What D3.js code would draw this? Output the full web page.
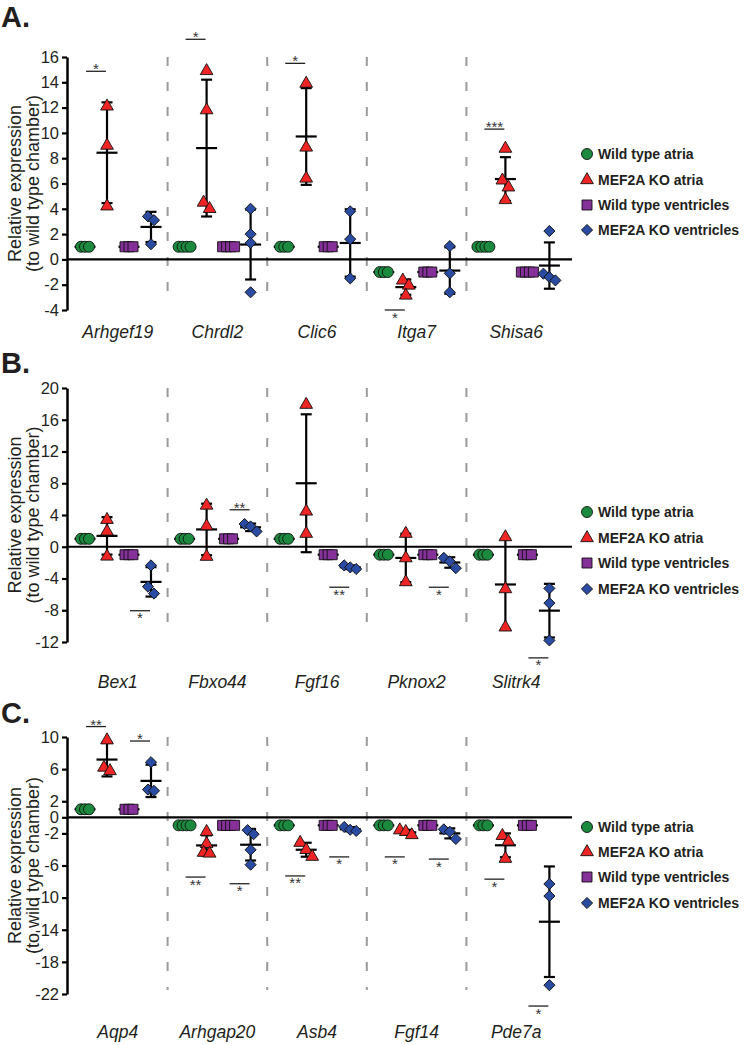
<!DOCTYPE html>
<html><head><meta charset="utf-8">
<script src="https://cdn.jsdelivr.net/npm/d3@7"></script>
<style>
body{margin:0;background:#fff;}
svg{display:block;font-family:"Liberation Sans",Arial,sans-serif;}
</style></head>
<body>
<svg id="chart" width="745" height="1045"></svg>
<script>
// ---------------- DATA ----------------
const seriesNames = ["Wild type atria","MEF2A KO atria","Wild type ventricles","MEF2A KO ventricles"];

const genesA = ["Arhgef19","Chrdl2","Clic6","Itga7","Shisa6"];
const wtAtriaA = [[1,1,1],[1,1,1,1],[1,1,1],[-1,-1,-1],[1,1,1,1]];
const koAtriaA = [[12.1,9.0,4.2],[14.9,11.8,4.0,4.5],[13.9,8.85,6.4],[-1.66,-2.06,-2.85],[8.76,6.25,5.7,4.7]];
const wtVentA  = [[1,1,1],[1,1,1,1],[1,1,1],[-1,-1,-1],[-1,-1,-1,-1]];
const koVentA  = [[3.4,3.1,1.2],[4.0,2.0,1.3,-2.6],[3.8,1.6,-1.5],[1.05,-1.1,-2.6],[2.24,-1.13,-1.4,-1.66]];
const ticksA = [-4,-2,0,2,4,6,8,10,12,14,16];
const sigGeneA  = ["Arhgef19","Chrdl2","Clic6","Itga7","Shisa6"];
const sigPairA  = ["atria","atria","atria","atria","atria"];
const sigTextA  = ["*","*","*","*","***"];
const sigLevelA = [14.87,17.4,15.5,-4.0,10.3];

const genesB = ["Bex1","Fbxo44","Fgf16","Pknox2","Slitrk4"];
const wtAtriaB = [[1,1,1],[1,1,1],[1,1,1],[-1,-1,-1],[-1,-1,-1]];
const koAtriaB = [[3.4,1.93,-1.22],[5.2,2.6,-1.25],[17.9,4.45,1.65],[1.65,-1.43,-4.45],[1.22,-5.33,-10.15]];
const wtVentB  = [[-1,-1,-1],[1,1,1],[-1,-1,-1],[-1,-1,-1],[-1,-1,-1]];
const koVentB  = [[-2.35,-5.03,-5.9],[2.86,2.56,1.93],[-2.35,-2.8,-2.6],[-1.4,-1.85,-2.7],[-5.25,-7.1,-11.8]];
const ticksB = [-12,-8,-4,0,4,8,12,16,20];
const sigGeneB  = ["Bex1","Fbxo44","Fgf16","Pknox2","Slitrk4"];
const sigPairB  = ["vent","vent","vent","vent","vent"];
const sigTextB  = ["*","**","**","*","*"];
const sigLevelB = [-8.06,4.66,-5.1,-5.1,-14.0];

const genesC = ["Aqp4","Arhgap20","Asb4","Fgf14","Pde7a"];
const wtAtriaC = [[1,1,1],[-1,-1,-1,-1],[-1,-1,-1],[-1,-1,-1],[-1,-1,-1]];
const koAtriaC = [[9.6,5.77,6.2],[-1.8,-3.3,-4.4,-4.5],[-3.16,-4.05,-4.9],[-1.6,-1.8,-2.2],[-2.3,-3.0,-5.15]];
const wtVentC  = [[1,1,1],[-1,-1,-1,-1],[-1,-1,-1],[-1,-1,-1],[-1,-1,-1]];
const koVentC  = [[6.86,3.3,3.45],[-1.6,-2.1,-4.05,-5.9],[-1.2,-1.55,-1.7],[-1.5,-1.8,-2.7],[-8.3,-9.8,-20.9]];
const ticksC = [10,6,2,0,-2,-6,-10,-14,-18,-22];
const sigGeneC  = ["Aqp4","Aqp4","Arhgap20","Arhgap20","Asb4","Asb4","Fgf14","Fgf14","Pde7a","Pde7a"];
const sigPairC  = ["atria","vent","atria","vent","atria","vent","atria","vent","atria","vent"];
const sigTextC  = ["**","*","**","*","**","*","*","*","*","*"];
const sigLevelC = [11.3,9.5,-7.44,-8.27,-7.3,-4.93,-4.93,-5.2,-7.7,-23.5];

// ---------------- STYLE / LAYOUT ----------------
const colors = ["#1b8a3e","#ee2524","#86309a","#2a4ba2"];
const symbolsList = [d3.symbolCircle, d3.symbolTriangle, d3.symbolSquare, d3.symbolSquare];
const symSizes = [95, 70, 100, 62];
const symRot = [0,0,0,45];
const textCol = "#231f20";

const panels = [
  {letter:"A.", genes:genesA, series:[wtAtriaA,koAtriaA,wtVentA,koVentA], ticks:ticksA, dom:[-4,16], top:57, bot:310,
   labelY:338, letterY:27, legY:[154,180,205,230],
   sig:{gene:sigGeneA,pair:sigPairA,text:sigTextA,level:sigLevelA}},
  {letter:"B.", genes:genesB, series:[wtAtriaB,koAtriaB,wtVentB,koVentB], ticks:ticksB, dom:[-12,20], top:388, bot:642,
   labelY:688, letterY:373, legY:[512,538,563,589],
   sig:{gene:sigGeneB,pair:sigPairB,text:sigTextB,level:sigLevelB}},
  {letter:"C.", genes:genesC, series:[wtAtriaC,koAtriaC,wtVentC,koVentC], ticks:ticksC, dom:[-22,10], top:737, bot:994,
   labelY:1038, letterY:723, legY:[827,852,877,903],
   sig:{gene:sigGeneC,pair:sigPairC,text:sigTextC,level:sigLevelC}}
];

const axisX = 67;
const svg = d3.select("#chart");

panels.forEach(p => {
  const g = svg.append("g");
  const y = d3.scaleLinear().domain(p.dom).range([p.bot, p.top]);
  const x = d3.scaleBand().domain(p.genes).range([68, 566]).paddingInner(0).paddingOuter(0);
  const sub = d3.scalePoint().domain([0,1,2,3]).range([17, 83]);

  // panel letter
  g.append("text").attr("x", 1).attr("y", p.letterY).attr("font-size", 29).attr("font-weight", "bold")
    .attr("fill", textCol).text(p.letter);

  // y title
  const cy = (p.top + p.bot) / 2;
  [["Relative expression", 21], ["(to wild type chamber)", 39]].forEach(([t, xx]) => {
    g.append("text").attr("transform", `translate(${xx},${cy}) rotate(-90)`).attr("text-anchor", "middle")
      .attr("font-size", 18).attr("fill", textCol).text(t);
  });

  // dashed separators
  p.genes.slice(1).forEach(gn => {
    g.append("line").attr("x1", x(gn)).attr("x2", x(gn)).attr("y1", p.top).attr("y2", p.bot - 4)
      .attr("stroke", "#9a9a9a").attr("stroke-width", 2).attr("stroke-dasharray", "9,16");
  });

  // zero line
  g.append("line").attr("x1", axisX).attr("x2", 572).attr("y1", y(0)).attr("y2", y(0))
    .attr("stroke", "#000").attr("stroke-width", 2.2);

  // y axis
  const ax = g.append("g").attr("transform", `translate(${axisX},0)`)
    .call(d3.axisLeft(y).tickValues(p.ticks).tickSize(5).tickSizeOuter(0).tickPadding(3).tickFormat(d3.format("d")));
  ax.select(".domain").attr("stroke", "#000").attr("stroke-width", 2.5);
  ax.selectAll(".tick line").attr("stroke", "#000").attr("stroke-width", 2.2);
  ax.selectAll(".tick text").attr("font-size", 16.5).attr("fill", textCol)
    .attr("font-family", '"Liberation Sans",Arial,sans-serif').text(d => d < 0 ? "-" + Math.abs(d) : d);

  // category labels
  p.genes.forEach(gn => {
    g.append("text").attr("x", x(gn) + x.bandwidth() / 2).attr("y", p.labelY).attr("text-anchor", "middle")
      .attr("font-size", 17.5).attr("font-style", "italic").attr("fill", textCol).text(gn);
  });

  // error bars + points
  p.series.forEach((ser, si) => {
    ser.forEach((vals, gi) => {
      const cx = x(p.genes[gi]) + sub(si);
      const m = d3.mean(vals), sd = d3.deviation(vals) || 0;
      const eb = g.append("g").attr("stroke", "#000").attr("stroke-width", 2.2);
      eb.append("line").attr("x1", cx).attr("x2", cx).attr("y1", y(m - sd)).attr("y2", y(m + sd));
      eb.append("line").attr("x1", cx - 10.5).attr("x2", cx + 10.5).attr("y1", y(m)).attr("y2", y(m));
      [m - sd, m + sd].forEach(v => eb.append("line").attr("x1", cx - 5.5).attr("x2", cx + 5.5).attr("y1", y(v)).attr("y2", y(v)));

      // cluster points for horizontal spreading
      const pts = vals.map((v, i) => ({v, i, py: y(v)})).sort((a, b) => a.py - b.py);
      const clusters = [];
      pts.forEach(pt => {
        const last = clusters[clusters.length - 1];
        if (last && pt.py - last[last.length - 1].py < 8.5) last.push(pt); else clusters.push([pt]);
      });
      clusters.forEach(cl => {
        const allEq = cl.every(q => Math.abs(q.py - cl[0].py) < 0.5);
        const step = allEq ? 4 : 6;
        cl.forEach((q, k) => { q.dx = (k - (cl.length - 1) / 2) * step; });
      });
      const sym = d3.symbol().type(symbolsList[si]).size(symSizes[si]);
      pts.forEach(q => {
        g.append("path").attr("d", sym())
          .attr("transform", `translate(${cx + q.dx},${q.py}) rotate(${symRot[si]})`)
          .attr("fill", colors[si]).attr("stroke", "#111").attr("stroke-width", 0.9);
      });
    });
  });

  // significance marks
  p.sig.gene.forEach((gn, k) => {
    const base = x(gn);
    const mid = base + (p.sig.pair[k] === "atria" ? (sub(0) + sub(1)) / 2 : (sub(2) + sub(3)) / 2);
    const ly = y(p.sig.level[k]);
    g.append("line").attr("x1", mid - 10).attr("x2", mid + 10).attr("y1", ly).attr("y2", ly)
      .attr("stroke", "#222").attr("stroke-width", 1.3);
    const below = p.sig.level[k] < 0;
    g.append("text").attr("x", mid).attr("y", below ? ly + 12.5 : ly + 3).attr("text-anchor", "middle")
      .attr("font-size", 15).attr("fill", "#333").text(p.sig.text[k]);
  });

  // legend
  seriesNames.forEach((nm, si) => {
    const ly = p.legY[si];
    const sym = d3.symbol().type(symbolsList[si]).size(symSizes[si]);
    g.append("path").attr("d", sym()).attr("transform", `translate(587,${ly}) rotate(${symRot[si]})`)
      .attr("fill", colors[si]).attr("stroke", "#111").attr("stroke-width", 0.9);
    g.append("text").attr("x", 598).attr("y", ly + 5).attr("font-size", 14).attr("font-weight", "bold")
      .attr("fill", textCol).text(nm);
  });
});
</script>
</body></html>
